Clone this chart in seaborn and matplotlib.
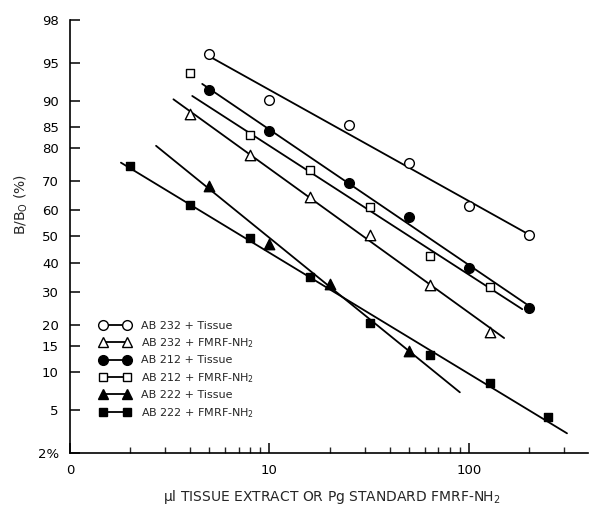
import numpy as np
import pandas as pd
import matplotlib
matplotlib.use("Agg")
import matplotlib.pyplot as plt
import seaborn as sns
from statistics import NormalDist
from matplotlib.lines import Line2D
from matplotlib.ticker import FixedLocator, FixedFormatter, NullFormatter

# ---------------- data ----------------
series_labels = ["AB 232 + Tissue", "AB 232 + FMRF-NH$_2$", "AB 212 + Tissue",
                 "AB 212 + FMRF-NH$_2$", "AB 222 + Tissue", "AB 222 + FMRF-NH$_2$"]

ab232_tissue_dose = [5, 10, 25, 50, 100, 200]
ab232_tissue = [95.8, 90.3, 85.4, 75.8, 61.3, 50.4]

ab232_fmrf_dose = [4, 8, 16, 32, 64, 128]
ab232_fmrf = [87.8, 77.9, 64.6, 50.4, 32.3, 18.3]

ab212_tissue_dose = [5, 10, 25, 50, 100, 200]
ab212_tissue = [91.7, 84.2, 69.5, 57.3, 38.3, 24.8]

ab212_fmrf_dose = [4, 8, 16, 32, 64, 128]
ab212_fmrf = [93.9, 83.1, 73.5, 61.2, 42.7, 31.7]

ab222_tissue_dose = [5, 10, 20, 50]
ab222_tissue = [68.4, 47.2, 32.7, 13.9]

ab222_fmrf_dose = [2, 4, 8, 16, 32, 64, 128, 250]
ab222_fmrf = [74.8, 61.9, 49.6, 34.9, 20.6, 13.0, 8.2, 4.3]

# extent of each fitted line (dose units) and first point used in the fit
line_from = [5, 3.3, 4.6, 4.1, 2.7, 1.8]
line_to = [200, 150, 200, 185, 90, 310]
fit_first = [0, 0, 0, 1, 0, 0]

y_ticks = [2, 5, 10, 15, 20, 30, 40, 50, 60, 70, 80, 85, 90, 95, 98]
y_tick_labels = ["2%", "5", "10", "15", "20", "30", "40", "50", "60", "70",
                 "80", "85", "90", "95", "98"]
x_ticks = [1, 10, 100]
x_tick_labels = ["0", "10", "100"]
x_minor = [2, 3, 4, 5, 6, 7, 8, 9, 20, 30, 40, 50, 60, 70, 80, 90, 200, 300]

doses = [ab232_tissue_dose, ab232_fmrf_dose, ab212_tissue_dose,
         ab212_fmrf_dose, ab222_tissue_dose, ab222_fmrf_dose]
values = [ab232_tissue, ab232_fmrf, ab212_tissue, ab212_fmrf, ab222_tissue, ab222_fmrf]

# styles
markers = ["o", "^", "o", "s", "^", "s"]
faces = ["white", "white", "black", "white", "black", "black"]
msizes = [7, 7.5, 7, 6, 7.5, 6]

# ---------------- probit scale ----------------
_nd = NormalDist()


def _fwd_scalar(p):
    if np.isnan(p):
        return np.nan
    q = min(max(p / 100.0, 1e-6), 1 - 1e-6)
    return _nd.inv_cdf(q)


def _inv_scalar(z):
    if np.isnan(z):
        return np.nan
    return _nd.cdf(z) * 100.0


_fwd_v = np.vectorize(_fwd_scalar, otypes=[float])
_inv_v = np.vectorize(_inv_scalar, otypes=[float])


def probit_fwd(p):
    return _fwd_v(np.asarray(p, dtype=float))


def probit_inv(z):
    return _inv_v(np.asarray(z, dtype=float))


# ---------------- figure ----------------
sns.set_style("ticks")
plt.rcParams["font.family"] = ["DejaVu Sans"]
plt.rcParams["mathtext.fontset"] = "dejavusans"

fig = plt.figure(figsize=(5.89, 5.09), dpi=100)
ax = fig.add_axes([70 / 589, 1 - 453 / 509, 518 / 589, 433 / 509])

ax.set_xscale("log")
ax.set_yscale("function", functions=(probit_fwd, probit_inv))

for i in range(len(series_labels)):
    x = np.asarray(doses[i], dtype=float)
    y = np.asarray(values[i], dtype=float)
    k = fit_first[i]
    slope, icpt = np.polyfit(np.log10(x[k:]), probit_fwd(y[k:]), 1)
    lx = np.linspace(np.log10(line_from[i]), np.log10(line_to[i]), 60)
    xx = 10 ** lx
    yy = probit_inv(slope * lx + icpt)
    line_df = pd.DataFrame({"x": xx, "y": yy})
    sns.lineplot(data=line_df, x="x", y="y", color="black", lw=1.3,
                 ax=ax, sort=False, estimator=None, zorder=2)
    pts = pd.DataFrame({"x": x, "y": y})
    sns.scatterplot(data=pts, x="x", y="y", marker=markers[i], s=msizes[i] ** 2,
                    facecolor=faces[i], edgecolor="black", linewidth=1.0,
                    ax=ax, zorder=3)

ax.set_xlim(1, 395)
ax.set_ylim(2, 98)

ax.yaxis.set_major_locator(FixedLocator(y_ticks))
ax.yaxis.set_major_formatter(FixedFormatter(y_tick_labels))
ax.yaxis.set_minor_locator(FixedLocator([]))
ax.xaxis.set_major_locator(FixedLocator(x_ticks))
ax.xaxis.set_major_formatter(FixedFormatter(x_tick_labels))
ax.xaxis.set_minor_locator(FixedLocator(x_minor))
ax.xaxis.set_minor_formatter(NullFormatter())

ax.tick_params(axis="y", which="major", direction="in", length=7, width=1.1,
               labelsize=9.5, pad=8, colors="black")
ax.tick_params(axis="x", which="major", direction="in", length=7, width=1.1,
               labelsize=9.5, pad=8, colors="black")
ax.tick_params(axis="x", which="minor", direction="in", length=4.5, width=1.0)

for s in ["top", "right"]:
    ax.spines[s].set_visible(False)
for s in ["left", "bottom"]:
    ax.spines[s].set_linewidth(1.2)
    ax.spines[s].set_color("black")

ax.set_xlabel("\u03bcl TISSUE EXTRACT OR Pg STANDARD FMRF-NH$_2$", fontsize=10)
ax.set_ylabel("B/B$_\\mathrm{O}$ (%)", fontsize=10)
ax.xaxis.set_label_coords(0.506, -0.08)
ax.yaxis.set_label_coords(-0.077, 0.575)

handles = [Line2D([], [], color="black", lw=1.3, marker=markers[i], ms=msizes[i],
                  markerfacecolor=faces[i], markeredgecolor="black", mew=1.0)
           for i in range(len(series_labels))]
leg = ax.legend(handles, series_labels, loc="upper left",
                bbox_to_anchor=(0.058, 0.306), frameon=False, fontsize=8,
                numpoints=2, handlelength=2.7, handletextpad=1.0,
                labelspacing=0.5, borderpad=0, borderaxespad=0)

fig.savefig("out.png", dpi=100)
